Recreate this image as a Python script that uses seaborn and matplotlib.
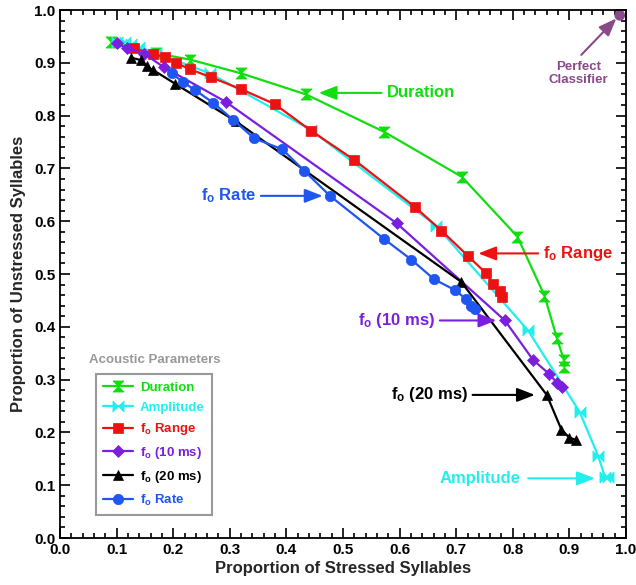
import matplotlib
matplotlib.use('Agg')
import matplotlib.pyplot as plt
import seaborn as sns
import pandas as pd
from matplotlib.ticker import MultipleLocator

sns.set_theme(style='ticks')
plt.rcParams['font.family'] = ['Liberation Sans', 'DejaVu Sans']
plt.rcParams['font.weight'] = 'bold'
plt.rcParams['mathtext.default'] = 'regular'

# ---------------- data ----------------
dur_x = [0.09, 0.17, 0.23, 0.32, 0.435, 0.573, 0.71, 0.808, 0.856, 0.878, 0.89, 0.891]
dur_y = [0.940, 0.918, 0.906, 0.880, 0.840, 0.769, 0.684, 0.571, 0.459, 0.378, 0.338, 0.324]

amp_x = [0.10, 0.115, 0.125, 0.14, 0.17, 0.265, 0.443, 0.665, 0.827, 0.918, 0.951, 0.963, 0.968]
amp_y = [0.940, 0.940, 0.935, 0.930, 0.918, 0.880, 0.773, 0.591, 0.393, 0.239, 0.155, 0.115, 0.115]

rng_x = [0.13, 0.165, 0.185, 0.205, 0.229, 0.266, 0.32, 0.379, 0.444, 0.52, 0.627, 0.674, 0.721, 0.753, 0.765, 0.777, 0.781]
rng_y = [0.928, 0.916, 0.911, 0.900, 0.888, 0.873, 0.850, 0.822, 0.771, 0.716, 0.627, 0.582, 0.534, 0.501, 0.482, 0.468, 0.457]

f10_x = [0.10, 0.118, 0.149, 0.183, 0.293, 0.595, 0.786, 0.836, 0.864, 0.878, 0.887]
f10_y = [0.937, 0.928, 0.917, 0.892, 0.826, 0.596, 0.412, 0.337, 0.311, 0.294, 0.286]

f20_x = [0.125, 0.143, 0.153, 0.165, 0.204, 0.311, 0.709, 0.86, 0.886, 0.90, 0.911]
f20_y = [0.910, 0.905, 0.893, 0.886, 0.860, 0.789, 0.485, 0.271, 0.205, 0.190, 0.186]

rate_x = [0.197, 0.218, 0.239, 0.271, 0.306, 0.343, 0.393, 0.431, 0.477, 0.573, 0.621, 0.661, 0.697, 0.717, 0.727, 0.734]
rate_y = [0.880, 0.863, 0.848, 0.824, 0.792, 0.757, 0.736, 0.696, 0.648, 0.566, 0.527, 0.490, 0.470, 0.453, 0.440, 0.433]

perfect_x = [0.989]
perfect_y = [0.990]

series_names = ['Duration', 'Amplitude', 'f$_o$ Range', 'f$_o$ (10 ms)', 'f$_o$ (20 ms)', 'f$_o$ Rate']
x_ticks = [0.0, 0.1, 0.2, 0.3, 0.4, 0.5, 0.6, 0.7, 0.8, 0.9, 1.0]
y_ticks = [0.0, 0.1, 0.2, 0.3, 0.4, 0.5, 0.6, 0.7, 0.8, 0.9, 1.0]

# ---------------- style ----------------
hourglass = [(-1, 1), (1, 1), (-1, -1), (1, -1), (-1, 1)]
bowtie = [(-1, -1), (-1, 1), (1, -1), (1, 1), (-1, -1)]

colors = ['#11DD11', '#22EEEE', '#EE1111', '#7A1EE0', '#000000', '#1F55F0']
markers = [hourglass, bowtie, 's', 'D', '^', 'o']
msizes = [8, 8, 7.5, 6.5, 7, 7.5]
data = [(dur_x, dur_y), (amp_x, amp_y), (rng_x, rng_y), (f10_x, f10_y), (f20_x, f20_y), (rate_x, rate_y)]

fig = plt.figure(figsize=(6.36, 5.85), dpi=100)
ax = fig.add_axes([60 / 636, 47 / 585, 566 / 636, 528 / 585])

for (xs, ys), name, c, m, ms in zip(data, series_names, colors, markers, msizes):
    df = pd.DataFrame({'x': xs, 'y': ys})
    sns.lineplot(data=df, x='x', y='y', sort=False, estimator=None, ax=ax,
                 color=c, marker=m, markersize=ms, markeredgecolor=c,
                 markeredgewidth=0.5, linewidth=1.6, label=name)

pdf = pd.DataFrame({'x': perfect_x, 'y': perfect_y})
sns.scatterplot(data=pdf, x='x', y='y', ax=ax, color='#8A4A8A', s=60, edgecolor='none', legend=False)

ax.set_xlim(0, 1)
ax.set_ylim(0, 1)
ax.xaxis.set_minor_locator(MultipleLocator(0.02))
ax.yaxis.set_minor_locator(MultipleLocator(0.02))
ax.tick_params(which='both', direction='in', top=True, right=True, width=1.2, colors='black')
ax.tick_params(which='major', length=7, labelsize=11)
ax.tick_params(which='minor', length=3.5)
for sp in ax.spines.values():
    sp.set_linewidth(1.3)
    sp.set_color('black')
ax.set_xticks(x_ticks)
ax.set_xticklabels([f'{t:.1f}' for t in x_ticks], fontweight='bold')
ax.set_yticks(y_ticks)
ax.set_yticklabels([f'{t:.1f}' for t in y_ticks], fontweight='bold')
ax.set_xlabel('Proportion of Stressed Syllables', fontsize=12, fontweight='bold', labelpad=3)
ax.set_ylabel('Proportion of Unstressed Syllables', fontsize=12, fontweight='bold', labelpad=6)

# legend
leg = ax.legend(loc='lower left', bbox_to_anchor=(0.064, 0.044), frameon=True, fancybox=False,
                framealpha=1, facecolor='white',
                edgecolor='#999999', fontsize=9.5, handlelength=2.2, labelspacing=0.58,
                borderpad=0.55, handletextpad=0.55, borderaxespad=0)
leg.get_frame().set_linewidth(1.5)
for txt, c in zip(leg.get_texts(), colors):
    txt.set_color(c)
    txt.set_fontweight('bold')
ax.text(0.168, 0.337, 'Acoustic Parameters', color='#999999', fontsize=9.5, fontweight='bold',
        ha='center', va='center')

# annotations
def arrow(tail, tip, c):
    ax.annotate('', xy=tip, xytext=tail,
                arrowprops=dict(arrowstyle='-|>,head_length=0.9,head_width=0.35', color=c, lw=1.5,
                                shrinkA=0, shrinkB=0))

ax.text(0.577, 0.843, 'Duration', color=colors[0], fontsize=12, fontweight='bold', va='center', ha='left')
arrow((0.568, 0.843), (0.457, 0.843), colors[0])

ax.text(0.854, 0.539, 'f$_o$ Range', color=colors[2], fontsize=12, fontweight='bold', va='center', ha='left')
arrow((0.845, 0.539), (0.739, 0.539), colors[2])

ax.text(0.249, 0.648, 'f$_o$ Rate', color=colors[5], fontsize=12, fontweight='bold', va='center', ha='left')
arrow((0.355, 0.648), (0.464, 0.648), colors[5])

ax.text(0.526, 0.412, 'f$_o$ (10 ms)', color=colors[3], fontsize=12, fontweight='bold', va='center', ha='left')
arrow((0.671, 0.412), (0.771, 0.412), colors[3])

ax.text(0.585, 0.271, 'f$_o$ (20 ms)', color=colors[4], fontsize=12, fontweight='bold', va='center', ha='left')
arrow((0.729, 0.271), (0.839, 0.271), colors[4])

ax.text(0.670, 0.113, 'Amplitude', color=colors[1], fontsize=12, fontweight='bold', va='center', ha='left')
arrow((0.827, 0.113), (0.945, 0.113), colors[1])

ax.text(0.916, 0.879, 'Perfect\nClassifier', color='#8A4A8A', fontsize=9.5, fontweight='bold',
        ha='center', va='center', linespacing=1.1)
arrow((0.921, 0.915), (0.983, 0.984), '#8A4A8A')

fig.savefig('out.png', dpi=100)
